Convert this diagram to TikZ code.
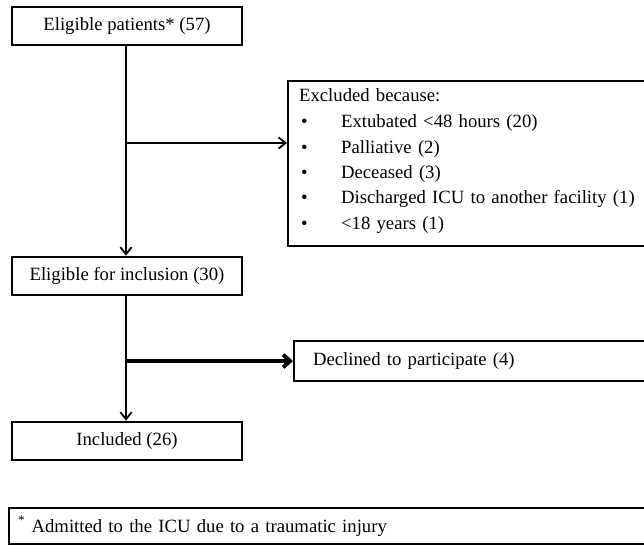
\documentclass[tikz,border=0pt]{standalone}
\usepackage{fontspec}
\setmainfont{Liberation Serif}
\usetikzlibrary{positioning, arrows.meta, calc}

\begin{document}
\begin{tikzpicture}[
  x=0.025cm, y=-0.025cm,
  font=\fontsize{13.3}{18}\selectfont,
  stagebox/.style={draw=black, line width=1.9pt, minimum width=5.75cm, minimum height=0.95cm,
    inner sep=0pt, align=center},
  sidebox/.style={draw=black, line width=1.6pt, anchor=north west, align=left, inner sep=0pt},
  flow/.style={-{Straight Barb[length=5pt, width=8pt]}, line width=1.3pt},
  bigflow/.style={-{Straight Barb[length=5pt, width=9pt]}, line width=2.8pt}
]
\useasboundingbox (0,0) rectangle (644,545);

% main column of the flow chart
\node[stagebox] (elig)  at (127,26)  {Eligible patients* (57)};
\node[stagebox] (incl0) at (127,276) {Eligible for inclusion (30)};
\node[stagebox] (incl)  at (127,441) {Included (26)};

% side boxes (cut by the right edge)
\node[sidebox, minimum height=4.125cm, text width=9.1cm]
  (excl) at (287,80) {\hspace*{0.275cm}Excluded because:\\[1pt]
  \hspace*{0.325cm}\makebox[1cm][l]{\textbullet}Extubated \textless48 hours (20)\\
  \hspace*{0.325cm}\makebox[1cm][l]{\textbullet}Palliative (2)\\
  \hspace*{0.325cm}\makebox[1cm][l]{\textbullet}Deceased (3)\\
  \hspace*{0.325cm}\makebox[1cm][l]{\textbullet}Discharged ICU to another facility (1)\\
  \hspace*{0.325cm}\makebox[1cm][l]{\textbullet}\textless18 years (1)\rule[-7pt]{0pt}{0pt}};
\node[sidebox, minimum height=1.0cm, text width=8.95cm]
  (decl) at (293,340) {\hspace*{0.475cm}Declined to participate (4)};

\coordinate (j1) at (126,143);
\coordinate (j2) at (126,361);

\draw[flow] (elig.south -| j1) -- (incl0.north -| j1);
\draw[flow] (j1) -- (excl.west |- j1);
\draw[flow] (incl0.south -| j2) -- (incl.north -| j2);
\draw[bigflow] (j2) -- (decl.west |- j2);

% footnote strip beneath
\node[sidebox, minimum height=0.9cm, text width=16.05cm]
  (note) at (8,507) {\hspace*{0.225cm}\textsuperscript{*} Admitted to the ICU due to a traumatic injury};

\end{tikzpicture}
\end{document}
